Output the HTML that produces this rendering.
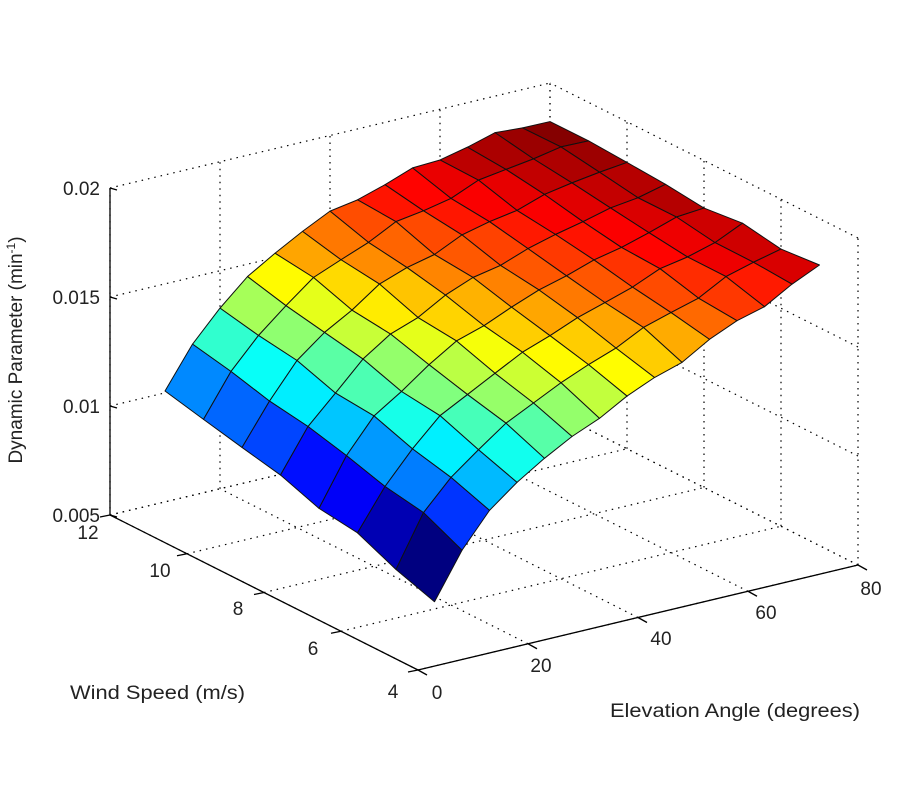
<!DOCTYPE html>
<html><head><meta charset="utf-8"><style>
html,body{margin:0;padding:0;background:#fff;}
svg{display:block;font-family:"Liberation Sans",sans-serif;}
</style></head><body>
<svg id="s" width="900" height="800" viewBox="0 0 900 800" xmlns="http://www.w3.org/2000/svg">
<g id="grid" stroke="#000" stroke-width="1.2" stroke-dasharray="1.5,5" fill="none"></g>
<g id="axes" stroke="#000" stroke-width="1.3" fill="none"></g>
<g id="surf" stroke="#111" stroke-width="1"></g>
<g font-size="19" fill="#222">
<text x="100" y="195" text-anchor="end">0.02</text>
<text x="100" y="304" text-anchor="end">0.015</text>
<text x="100" y="413" text-anchor="end">0.01</text>
<text x="100" y="522" text-anchor="end">0.005</text>
<text x="88" y="539" text-anchor="middle">12</text>
<text x="160" y="577" text-anchor="middle">10</text>
<text x="238" y="615" text-anchor="middle">8</text>
<text x="313" y="655" text-anchor="middle">6</text>
<text x="393" y="698" text-anchor="middle">4</text>
<text x="437" y="699" text-anchor="middle">0</text>
<text x="541" y="672" text-anchor="middle">20</text>
<text x="661" y="645" text-anchor="middle">40</text>
<text x="766" y="619" text-anchor="middle">60</text>
<text x="871" y="595" text-anchor="middle">80</text>
<text x="70" y="699" textLength="175" lengthAdjust="spacingAndGlyphs">Wind Speed (m/s)</text>
<text x="610" y="717" textLength="250" lengthAdjust="spacingAndGlyphs">Elevation Angle (degrees)</text>
<text transform="translate(22,350) rotate(-90)" text-anchor="middle">Dynamic Parameter (min<tspan dy="-7" font-size="12">-1</tspan><tspan dy="7">)</tspan></text>
</g>
</svg>
<script>
var NS="http://www.w3.org/2000/svg";
function P(x,y,z){return [418+440*x/80-308*(y-4)/8, 670-105*x/80-155*(y-4)/8-327*(z-0.005)/0.015];}
function line(g,a,b){var l=document.createElementNS(NS,"line");l.setAttribute("x1",a[0]);l.setAttribute("y1",a[1]);l.setAttribute("x2",b[0]);l.setAttribute("y2",b[1]);document.getElementById(g).appendChild(l);}
var zt=[0.005,0.01,0.015,0.02],xt=[0,20,40,60,80],yt=[4,6,8,10,12];
xt.forEach(function(x){line("grid",P(x,4,.005),P(x,12,.005));line("grid",P(x,12,.005),P(x,12,.02));});
yt.forEach(function(y){line("grid",P(0,y,.005),P(80,y,.005));line("grid",P(80,y,.005),P(80,y,.02));});
zt.forEach(function(z){line("grid",P(0,12,z),P(80,12,z));line("grid",P(80,4,z),P(80,12,z));});
line("axes",P(0,12,.005),P(0,12,.02));line("axes",P(0,4,.005),P(0,12,.005));line("axes",P(0,4,.005),P(80,4,.005));
zt.forEach(function(z){var a=P(0,12,z);line("axes",a,[a[0]+7,a[1]+2]);});
xt.forEach(function(x){var a=P(x,4,.005);line("axes",a,[a[0]+9,a[1]+5]);});
yt.forEach(function(y){var a=P(0,y,.005);line("axes",a,[a[0]-10,a[1]+2]);});
function z5(e){return .0066+.0035*(1-Math.exp(-(e-10)/8))+.00011*(e-10);}
function z12(e){return .0101+.0079*(1-Math.exp(-(e-10)/20))/(1-Math.exp(-3.5));}
function Z(e,w){var t=(w-5)/7;t=Math.pow(t,0.8);var n=Math.sin(e*1.7+w*2.3)*0.00008+Math.cos(e*0.9-w*3.1)*0.00006;
var bump=0.0004*Math.exp(-Math.pow((e-72)/14,2))*Math.exp(-Math.pow((w-11.5)/2,2));
return z5(e)+t*(z12(e)-z5(e))+n+bump;}
var E=[],W=[];for(var e=10;e<=80;e+=5)E.push(e);for(var w=5;w<=12;w++)W.push(w);
var G=[],mn=1,mx=0;for(var i=0;i<E.length;i++){G[i]=[];for(var j=0;j<W.length;j++){var v=Z(E[i],W[j]);G[i][j]=v;mn=Math.min(mn,v);mx=Math.max(mx,v);}}
function jet(v){var t=(v-mn)/(mx-mn);t=Math.max(0,Math.min(1,t));
function f(x){return Math.max(0,Math.min(1,1.5-Math.abs(x)));}
var r=f(4*t-3),g=f(4*t-2),b=f(4*t-1);return "rgb("+Math.round(r*255)+","+Math.round(g*255)+","+Math.round(b*255)+")";}
var cells=[];for(var i=0;i<E.length-1;i++)for(var j=0;j<W.length-1;j++)cells.push([i,j,E[i]/80+(W[j]-4)/8]);
cells.sort(function(a,b){return b[2]-a[2];});
var sg=document.getElementById("surf");
cells.forEach(function(c){var i=c[0],j=c[1];
var pts=[[i,j],[i+1,j],[i+1,j+1],[i,j+1]].map(function(k){return P(E[k[0]],W[k[1]],G[k[0]][k[1]]).join(",");}).join(" ");
var v=G[i][j];
var p=document.createElementNS(NS,"polygon");p.setAttribute("points",pts);p.setAttribute("fill",jet(v));p.setAttribute("stroke-linejoin","round");sg.appendChild(p);});
</script>
</body></html>
